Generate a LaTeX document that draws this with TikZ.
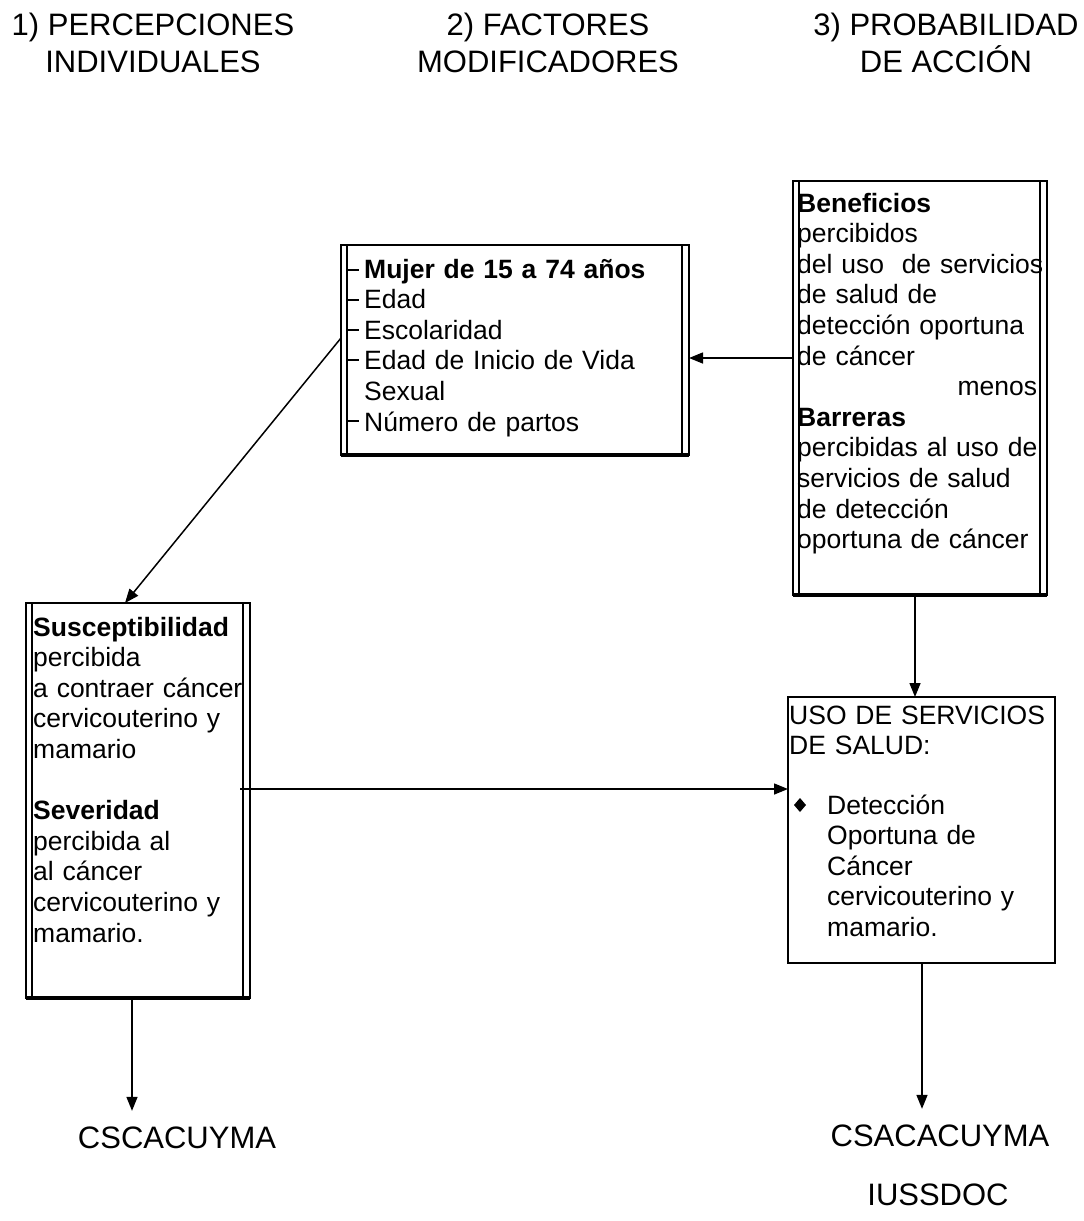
\documentclass[tikz,border=0pt]{standalone}
\usepackage{fontspec}
\setmainfont{Liberation Sans}
\usetikzlibrary{arrows.meta,calc}
\tikzset{
  boxnode/.style={rectangle,inner sep=0pt,outer sep=0pt},
  frame/.style={line width=1.5pt},
  arr/.style={line width=1.5pt,-{Triangle[length=14pt,width=11pt]}},
  body/.style={anchor=base west,inner sep=0pt,align=left,text width=#1,
    font=\fontsize{26.5}{30.6}\selectfont},
  head/.style={align=center,inner sep=0pt,font=\fontsize{31}{37}\selectfont},
  foot/.style={inner sep=0pt,font=\fontsize{31}{37}\selectfont}
}
\newcommand\dframe[1]{%
  \draw[frame] (#1.north west) rectangle (#1.south east);
  \draw[frame] ([xshift=6pt]#1.north west) -- ([xshift=6pt]#1.south west);
  \draw[frame] ([xshift=-7pt]#1.north east) -- ([xshift=-7pt]#1.south east);
  \draw[line width=3.2pt] (#1.south west) -- (#1.south east);
  \draw[line width=2.6pt] (#1.north east) -- (#1.south east);
}
\begin{document}
\begin{tikzpicture}[x=1pt,y=-1pt]
\useasboundingbox (0,0) rectangle (1084,1221);
\fill[white] (0,0) rectangle (1084,1221);

% headers
\node[head] (h1) at (153,43) {1) PERCEPCIONES\\INDIVIDUALES};
\node[head] (h2) at (548,43) {2) FACTORES\\MODIFICADORES};
\node[head] (h3) at (946,43) {3) PROBABILIDAD\\DE ACCI\'ON};

% boxes
\node[boxnode,minimum width=348pt,minimum height=210pt] (M) at (515,350) {};
\node[boxnode,minimum width=254pt,minimum height=414pt] (B) at (920,388) {};
\node[boxnode,minimum width=224pt,minimum height=395pt] (S) at (138,800.5) {};
\node[boxnode,minimum width=267pt,minimum height=266pt,draw,line width=1.4pt] (U) at (921.5,830) {};
\dframe{M}
\dframe{B}
\dframe{S}

% texts
\node[body=320pt] (Mt) at (364,278) {\textbf{Mujer de 15 a 74 años}\\Edad\\Escolaridad\\Edad de Inicio de Vida\\Sexual\\Número de partos};
\foreach \yy in {270,300,330,360,421}
  \draw[line width=1.5pt] (347,\yy) -- (359,\yy);

\node[body=300pt] (Bt) at (797,212) {\textbf{Beneficios}\\percibidos\\del uso\ \ de servicios\\de salud de\\detección oportuna\\de cáncer\\\makebox[240pt][r]{menos}\\\textbf{Barreras}\\percibidas al uso de\\servicios de salud\\de detección\\oportuna de cáncer};

\node[body=260pt] (St) at (33,636) {\textbf{Susceptibilidad}\\percibida\\a contraer cáncer\\cervicouterino y\\mamario\\\mbox{}\\\textbf{Severidad}\\percibida al\\al cáncer\\cervicouterino y\\mamario.};

\node[body=280pt] (Ut) at (789,724) {USO DE SERVICIOS\\DE SALUD:};
\node[body=230pt] (Ud) at (827,814) {Detección\\Oportuna de\\Cáncer\\cervicouterino y\\mamario.};
\fill (800,798) -- (806,805) -- (800,812) -- (794,805) -- cycle;

% bottom labels
\node[foot] (L1) at (177,1138) {CSCACUYMA};
\node[foot] (L2) at (940,1136) {CSACACUYMA};
\node[foot] (L3) at (938,1195) {IUSSDOC};

% connectors
\draw[arr] (B.west |- 0,358) -- (M.east |- 0,358);
\draw[arr] (M.west |- 0,338) -- (S.north -| 125,0);
\draw[arr] ([xshift=-10pt]S.east |- 0,789) -- (U.west |- 0,789);
\draw[arr] (B.south -| 915,0) -- (U.north -| 915,0);
\draw[arr] (S.south -| 132,0) -- ([yshift=16pt]L1.north -| 132,0);
\draw[arr] (U.south -| 922,0) -- ([yshift=16pt]L2.north -| 922,0);
\end{tikzpicture}
\end{document}
